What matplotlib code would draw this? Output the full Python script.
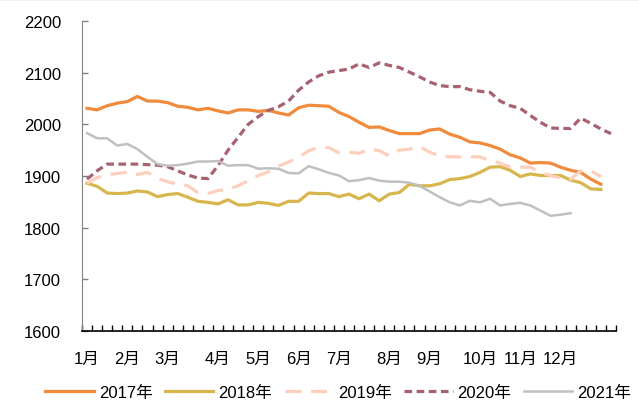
#!/bin/py
#
# weekly price by year, 2017-2021
#
import numpy as np
import matplotlib
matplotlib.use('Agg')
import matplotlib.pyplot as plt
from matplotlib.lines import Line2D

plt.rcParams['font.family'] = ['Liberation Sans', 'Noto Sans CJK SC', 'DejaVu Sans']

# week positions where a month label sits
month_pos = [0, 4, 8, 13, 17, 21, 25, 30, 34, 39, 43, 47]
month_labels = ['1月', '2月', '3月', '4月', '5月', '6月', '7月', '8月', '9月', '10月', '11月', '12月']
n_weeks = 53

y2017 = [2031, 2028, 2036, 2041, 2044, 2054, 2045, 2045, 2042, 2035, 2033, 2028, 2031, 2026,
         2022, 2028, 2028, 2025, 2027, 2022, 2018, 2032, 2037, 2036, 2035, 2023, 2015, 2004,
         1994, 1995, 1988, 1982, 1982, 1982, 1989, 1991, 1981, 1975, 1966, 1964, 1959, 1952,
         1941, 1935, 1925, 1926, 1925, 1917, 1911, 1907, 1894, 1884]
y2018 = [1886, 1880, 1867, 1866, 1867, 1871, 1869, 1860, 1864, 1866, 1859, 1851, 1849, 1846,
         1854, 1844, 1844, 1849, 1847, 1843, 1851, 1851, 1867, 1866, 1866, 1860, 1865, 1856,
         1865, 1852, 1865, 1868, 1884, 1881, 1881, 1885, 1893, 1895, 1899, 1907, 1917, 1918,
         1911, 1899, 1904, 1901, 1901, 1901, 1892, 1887, 1875, 1874]
y2019 = [1886, 1897, 1902, 1905, 1907, 1903, 1907, 1895, 1889, 1884, 1881, 1868, 1866, 1872,
         1874, 1881, 1891, 1901, 1908, 1919, 1927, 1936, 1949, 1956, 1955, 1945, 1946, 1944,
         1952, 1949, 1939, 1950, 1952, 1957, 1946, 1939, 1937, 1937, 1937, 1937, 1930, 1925,
         1917, 1917, 1917, 1907, 1901, 1896, 1894, 1910, 1910, 1899]
y2020 = [1894, 1910, 1923, 1923, 1923, 1923, 1922, 1921, 1918, 1910, 1902, 1896, 1895, 1920,
         1950, 1975, 2000, 2015, 2027, 2034, 2045, 2066, 2082, 2094, 2101, 2104, 2107, 2117,
         2110, 2119, 2114, 2110, 2101, 2092, 2082, 2075, 2073, 2073, 2067, 2064, 2062, 2045,
         2036, 2031, 2017, 2004, 1993, 1992, 1992, 2012, 2002, 1991, 1982]
y2021 = [1983, 1973, 1973, 1959, 1962, 1952, 1937, 1923, 1920, 1921, 1924, 1928, 1928, 1929,
         1920, 1921, 1921, 1914, 1915, 1914, 1906, 1905, 1919, 1913, 1906, 1901, 1890, 1892,
         1896, 1891, 1889, 1889, 1887, 1881, 1870, 1859, 1849, 1843, 1852, 1849, 1856, 1843,
         1846, 1848, 1843, 1833, 1823, 1825, 1828]


def main():
    fig = plt.figure(figsize=(6.39, 4.06), dpi=100)
    ax = fig.add_axes([0.1283, 0.1823, 0.8357, 0.7635])

    lw = 2.3
    ax.plot(np.arange(len(y2017)), y2017, color='#F08A3C', lw=lw, label='2017年')
    ax.plot(np.arange(len(y2018)), y2018, color='#D8B64E', lw=lw, label='2018年')
    ax.plot(np.arange(len(y2019)), y2019, color='#FDD0BE', lw=lw, dashes=(5, 3), label='2019年')
    ax.plot(np.arange(len(y2020)), y2020, color='#A6626F', lw=lw, dashes=(2.4, 1.4), label='2020年')
    ax.plot(np.arange(len(y2021)), y2021, color='#C0C0C0', lw=1.8, label='2021年')

    ax.set_xlim(-0.5, n_weeks - 0.5)
    ax.set_ylim(1600, 2200)
    ax.set_yticks(np.arange(1600, 2201, 100))

    ax.set_xticks(month_pos)
    ax.set_xticklabels(month_labels)
    ax.set_xticks(np.arange(-0.5, n_weeks, 1), minor=True)
    ax.tick_params(axis='x', which='major', length=0, pad=14, labelsize=12)
    ax.tick_params(axis='x', which='minor', direction='in', length=4, width=1, color='black')
    ax.tick_params(axis='y', direction='in', length=4, width=1, color='#808080', labelsize=12, pad=15)

    for s in ['top', 'right']:
        ax.spines[s].set_visible(False)
    ax.spines['left'].set_color('#808080')
    ax.spines['bottom'].set_color('black')
    ax.spines['bottom'].set_linewidth(1.2)

    ax.legend(loc='upper center', bbox_to_anchor=(0.48, -0.125), ncol=5, frameon=False,
              fontsize=12, handlelength=2.9, handletextpad=0.3, columnspacing=0.75)

    # thin border along the top of the picture
    fig.add_artist(Line2D([0, 1], [0.999, 0.999], transform=fig.transFigure, color='black', lw=0.8))

    plt.savefig('out.png', dpi=100)


main()
